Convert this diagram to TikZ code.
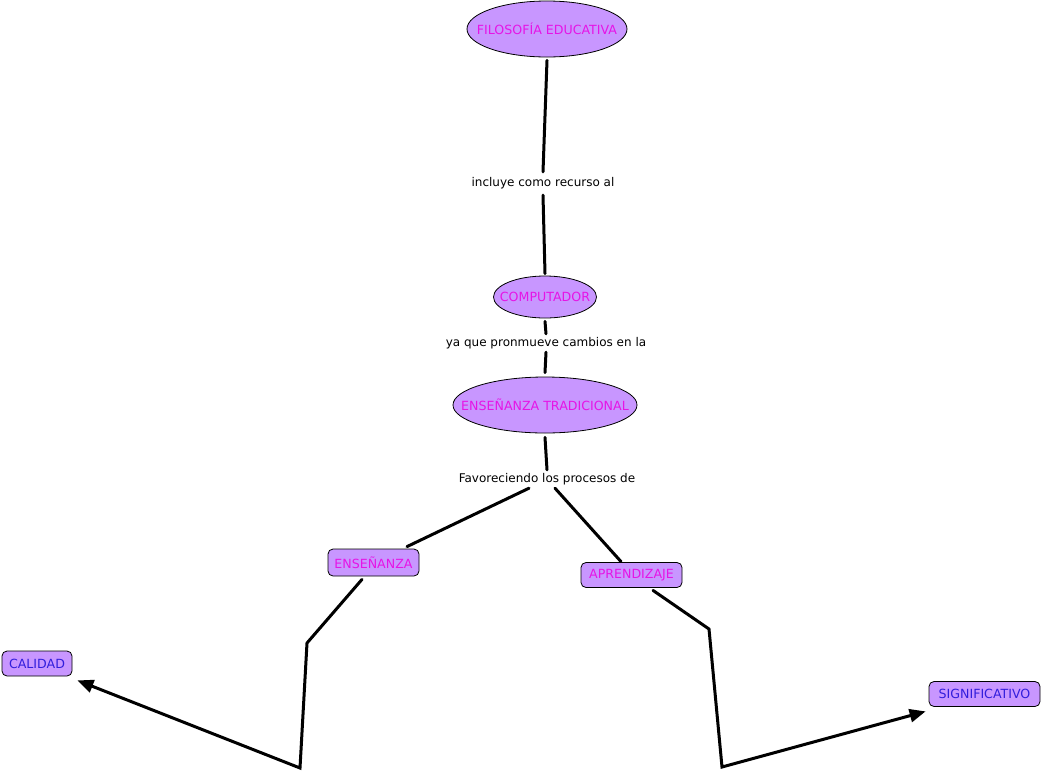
\documentclass[tikz,border=0pt]{standalone}
\usepackage{fontspec}
\setmainfont{DejaVu Sans}
\usetikzlibrary{shapes.geometric,arrows.meta}
\definecolor{cfill}{RGB}{200,150,255}
\definecolor{cmag}{RGB}{230,20,230}
\definecolor{cblue}{RGB}{50,30,220}
\tikzset{
  every node/.style={font=\fontsize{12}{14}\selectfont},
  concept/.style={font=\fontsize{12.6}{14}\selectfont},
  ell/.style={concept, ellipse, draw=black, line width=0.8pt, fill=cfill, text=cmag, inner sep=-40pt},
  box/.style={concept, rectangle, rounded corners=5pt, draw=black, line width=0.8pt, fill=cfill, inner sep=0pt},
  lab/.style={inner xsep=0pt, inner ysep=0pt, text=black, minimum height=18pt},
  conn/.style={line width=3pt, line cap=round},
  arr/.style={conn, -{Triangle[length=16pt,width=13pt]}},
}
\begin{document}
\begin{tikzpicture}[x=1pt,y=-1pt]
\useasboundingbox (0,0) rectangle (1042,772);
% nodes
\node[ell, minimum width=160pt, minimum height=56pt] (fe) at (547,29) {FILOSOFÍA EDUCATIVA};
\node[lab, minimum height=23pt] (l1) at (543,183.5) {incluye como recurso al};
\node[ell, minimum width=103pt, minimum height=42pt] (comp) at (545,297) {COMPUTADOR};
\node[lab] (l2) at (546,343) {ya que pronmueve cambios en la};
\node[ell, minimum width=184pt, minimum height=56pt] (et) at (545,405) {ENSEÑANZA TRADICIONAL};
\node[lab] (l3) at (547,479) {Favoreciendo los procesos de};
\node[box, text=cmag, minimum width=91pt, minimum height=27pt] (ens) at (373.5,562.5) {ENSEÑANZA};
\node[box, text=cmag, minimum width=101pt, minimum height=25pt] (apr) at (631.5,575) {APRENDIZAJE};
\node[box, text=cblue, minimum width=70pt, minimum height=25pt] (cal) at (37,663.5) {CALIDAD};
\node[box, text=cblue, minimum width=111pt, minimum height=25pt] (sig) at (984.5,694) {SIGNIFICATIVO};
% bend points
\coordinate (b1) at (307,643);
\coordinate (b2) at (300,768);
\coordinate (b3) at (709,629);
\coordinate (b4) at (722,767);
% connectors
\draw[conn] ([yshift=-3pt]fe.south) -- (l1.north);
\draw[conn] (l1.south) -- ([yshift=2pt]comp.north);
\draw[conn] ([yshift=-3pt]comp.south) -- (l2.north);
\draw[conn] (l2.south) -- ([yshift=4pt]et.north);
\draw[conn] ([yshift=-4pt]et.south) -- (l3.north);
\draw[conn] ([xshift=-18pt]l3.south) -- ([xshift=33.5pt,yshift=2pt]ens.north);
\draw[conn] ([xshift=8pt]l3.south) -- ([xshift=-10.5pt,yshift=0.5pt]apr.north);
\draw[arr] ([xshift=-11.5pt,yshift=-3pt]ens.south) -- (b1) -- (b2) -- ([xshift=5pt,yshift=-4pt]cal.south east);
\draw[arr] ([xshift=21.5pt,yshift=-2.5pt]apr.south) -- (b3) -- (b4) -- ([xshift=-3pt,yshift=-4.5pt]sig.south west);
\end{tikzpicture}
\end{document}
